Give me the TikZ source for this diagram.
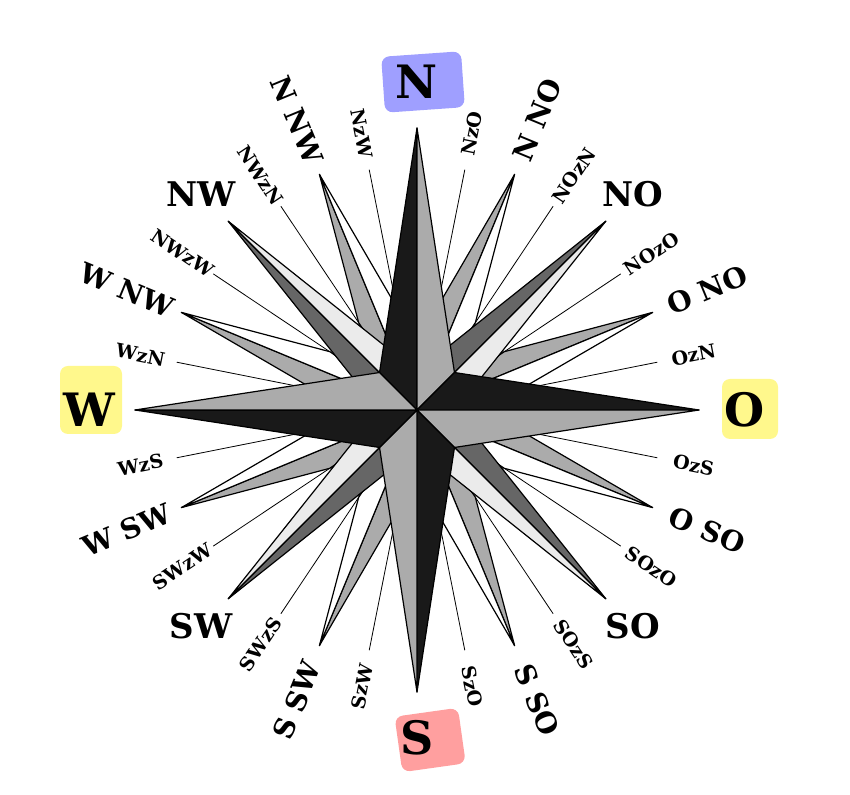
\documentclass[tikz,border=0pt]{standalone}
\usepackage{fontspec}
\setmainfont{DejaVu Serif}
\begin{document}
\begin{tikzpicture}[x=1pt,y=1pt,
  lab/.style={font=\bfseries\fontsize{#1}{#1}\selectfont, inner sep=1pt},
  rayline/.style={draw=black, line width=0.8pt},
  armedge/.style={draw=black, line width=1.2pt, line join=round}]
\useasboundingbox (0,0) rectangle (850,794);
\fill[white] (0,0) rectangle (850,794);
% highlights
\fill[fill=blue!50!white, opacity=0.75, rounded corners=8pt, rotate around={4:(423,712)}] (383,684) rectangle (463,740);
\fill[fill=yellow!50!white, opacity=0.9, rounded corners=8pt] (60,360) rectangle (122,428);
\fill[fill=yellow!50!white, opacity=0.9, rounded corners=8pt] (722,355) rectangle (778,415);
\fill[fill=red!50!white, opacity=0.75, rounded corners=8pt, rotate around={8:(430,55)}] (398,26) rectangle (462,82);
\begin{scope}[shift={(417,384)}]
\coordinate (c) at (0,0);
% by-point lines
\foreach \i in {1,3,...,31}{
  \pgfmathsetmacro\a{90-\i*11.25}
  \coordinate (b\i) at (\a:245);
  \draw[rayline] (c) -- (b\i);
}
% half winds
\foreach \i in {2,6,...,30}{
  \pgfmathsetmacro\a{90-\i*11.25}
  \coordinate (h\i) at (\a:255);
  \filldraw[armedge, fill=black!33] (c) -- (h\i) -- (\a+11.25:105) -- cycle;
  \filldraw[armedge, fill=white] (c) -- (h\i) -- (\a-11.25:105) -- cycle;
}
% intercardinals
\foreach \i in {4,12,20,28}{
  \pgfmathsetmacro\a{90-\i*11.25}
  \coordinate (m\i) at (\a:267);
  \filldraw[armedge, fill=black!60] (c) -- (m\i) -- (\a+22.5:62) -- cycle;
  \filldraw[armedge, fill=black!8] (c) -- (m\i) -- (\a-22.5:62) -- cycle;
}
% cardinals
\foreach \i in {0,8,16,24}{
  \pgfmathsetmacro\a{90-\i*11.25}
  \coordinate (k\i) at (\a:282);
  \filldraw[armedge, fill=black!90] (c) -- (k\i) -- (\a+45:53) -- cycle;
  \filldraw[armedge, fill=black!33] (c) -- (k\i) -- (\a-45:53) -- cycle;
}
% labels
\foreach \lab [count=\j from 0] in {N,NzO,N NO,NOzN,NO,NOzO,O NO,OzN,O,OzS,O SO,SOzO,SO,SOzS,S SO,SzO,S,SzW,S SW,SWzS,SW,SWzW,W SW,WzS,W,WzN,W NW,NWzW,NW,NWzN,N NW,NzW}{
  \pgfmathsetmacro\a{90-\j*11.25}
  \pgfmathtruncatemacro\t{mod(\j,8)}
  \pgfmathtruncatemacro\odd{mod(\j,2)}
  \pgfmathsetmacro\rot{cos(\a)>0.01 ? \a : \a-180}
  \ifnum\t=0
    \node[lab=46] (t\j) at (\a:328) {\lab};
  \else\ifnum\t=4
    \node[lab=34] (t\j) at (\a:305) {\lab};
  \else\ifnum\odd=1
    \node[lab=19, rotate=\rot] (t\j) at (\a:282) {\lab};
  \else
    \node[lab=28, rotate=\rot] (t\j) at (\a:314) {\lab};
  \fi\fi\fi
}
\end{scope}
\end{tikzpicture}
\end{document}
